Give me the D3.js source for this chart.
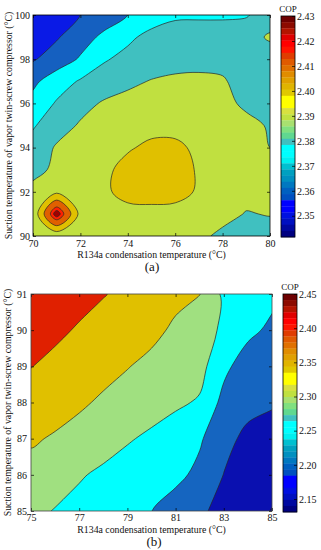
<!DOCTYPE html>
<html lang="en">
<head>
<meta charset="UTF-8">
<script src="https://cdn.jsdelivr.net/npm/d3@7"></script>
<style>
  body { margin: 0; background: #fff; }
  svg text { font-family: "Liberation Serif", "DejaVu Serif", serif; fill: #111; }
</style>
</head>
<body>
<svg id="chart" width="321" height="550"></svg>
<script>
// ---- panel (a) data: COP, rows top (100) to bottom (90)
const condTempA = [70, 71, 72, 73, 74, 75, 76, 77, 78, 79, 80];
const suctTempA = [100, 99, 98, 97, 96, 95, 94, 93, 92, 91, 90];
const copA = [
  [2.350, 2.355, 2.360, 2.365, 2.370, 2.375, 2.378, 2.378, 2.378, 2.379, 2.386],
  [2.352, 2.359, 2.366, 2.372, 2.378, 2.383, 2.386, 2.387, 2.387, 2.387, 2.391],
  [2.359, 2.365, 2.371, 2.379, 2.383, 2.385, 2.386, 2.387, 2.387, 2.386, 2.386],
  [2.368, 2.375, 2.381, 2.385, 2.388, 2.3905, 2.392, 2.392, 2.391, 2.386, 2.386],
  [2.373, 2.381, 2.387, 2.391, 2.393, 2.394, 2.395, 2.395, 2.393, 2.388, 2.388],
  [2.379, 2.386, 2.391, 2.394, 2.396, 2.397, 2.397, 2.396, 2.395, 2.393, 2.389],
  [2.384, 2.391, 2.395, 2.398, 2.399, 2.402, 2.402, 2.398, 2.395, 2.393, 2.390],
  [2.387, 2.392, 2.395, 2.398, 2.403, 2.405, 2.404, 2.399, 2.396, 2.394, 2.392],
  [2.393, 2.398, 2.397, 2.399, 2.402, 2.404, 2.403, 2.399, 2.396, 2.393, 2.392],
  [2.3925, 2.430, 2.3967, 2.396, 2.398, 2.397, 2.397, 2.395, 2.393, 2.3895, 2.3905],
  [2.393, 2.3925, 2.396, 2.394, 2.396, 2.397, 2.396, 2.392, 2.388, 2.389, 2.386]
];
const levelsA = [2.36, 2.37, 2.38, 2.39, 2.40, 2.41, 2.42, 2.425];
const xTicksA = [70, 72, 74, 76, 78, 80];
const yTicksA = [90, 92, 94, 96, 98, 100];
const cbTicksA = [2.35, 2.36, 2.37, 2.38, 2.39, 2.40, 2.41, 2.42, 2.43];
const cbRangeA = [2.3415, 2.43];

// ---- panel (b) data, rows top (91) to bottom (85)
const condTempB = [75, 76, 77, 78, 79, 80, 81, 82, 83, 84, 85];
const suctTempB = [91, 90, 89, 88, 87, 86, 85];
const copB = [
  [2.440, 2.425, 2.413, 2.402, 2.390, 2.375, 2.362, 2.351, 2.290, 2.275, 2.262],
  [2.425, 2.408, 2.396, 2.385, 2.372, 2.362, 2.342, 2.318, 2.293, 2.262, 2.240],
  [2.401, 2.390, 2.378, 2.365, 2.352, 2.338, 2.327, 2.316, 2.262, 2.225, 2.215],
  [2.380, 2.370, 2.357, 2.343, 2.330, 2.318, 2.308, 2.295, 2.235, 2.215, 2.205],
  [2.356, 2.345, 2.333, 2.318, 2.304, 2.292, 2.275, 2.256, 2.215, 2.188, 2.180],
  [2.333, 2.318, 2.304, 2.292, 2.281, 2.270, 2.262, 2.238, 2.199, 2.178, 2.168],
  [2.310, 2.298, 2.287, 2.275, 2.262, 2.2505, 2.228, 2.208, 2.185, 2.165, 2.148]
];
const levelsB = [2.15, 2.20, 2.25, 2.30, 2.35, 2.40];
const xTicksB = [75, 77, 79, 81, 83, 85];
const yTicksB = [85, 86, 87, 88, 89, 90, 91];
const cbTicksB = [2.15, 2.20, 2.25, 2.30, 2.35, 2.40, 2.45];
const cbRangeB = [2.131, 2.45];

// colours: base band + one per level
const fillsA = ["#0a1ae6", "#1560c0", "#00ffff", "#40c0c0", "#c0e040", "#e0c000", "#e06000", "#ff2000", "#a00000"];
const fillsB = ["#000088", "#0a10b0", "#1565c0", "#00ffff", "#a0e080", "#e0c000", "#e02000"];
// colorbar bands, top to bottom
const barColors = ["#6e0000", "#8c0a00", "#b41400", "#e00000", "#ff0000", "#ff1400", "#e03c00", "#e05a00",
  "#e07000", "#e08c00", "#e0a000", "#e0b400", "#e0c800", "#ffff00", "#ffff00", "#d8e040", "#c0e040",
  "#a8e070", "#80e080", "#60d890", "#40c0c0", "#00ffff", "#00ffff", "#00f0f0", "#00c0d0", "#00a0c0",
  "#0090c0", "#0078c0", "#0060c0", "#0050c0", "#0000ff", "#0000ff", "#0010e0", "#0010c0", "#0008a0", "#000080"];

const svg = d3.select("#chart");
const FONT = "Liberation Serif, DejaVu Serif, serif";

function panel(o) {
  const g = svg.append("g");
  const x = d3.scaleLinear().domain(o.xDomain).range([o.left, o.right]);
  const y = d3.scaleLinear().domain(o.yDomain).range([o.bottom, o.top]);
  const n = o.xs.length, m = o.ys.length;
  // grid space -> pixels (d3.contours puts sample i at i + 0.5)
  const gx = d3.scaleLinear().domain([0.5, n - 0.5]).range([x(o.xs[0]), x(o.xs[n - 1])]);
  const gy = d3.scaleLinear().domain([0.5, m - 0.5]).range([y(o.ys[0]), y(o.ys[m - 1])]);
  const contours = d3.contours().size([n, m]).thresholds(o.levels)(o.z.flat());

  g.append("clipPath").attr("id", "clip" + o.id)
    .append("rect").attr("x", o.left).attr("y", o.top)
    .attr("width", o.right - o.left).attr("height", o.bottom - o.top);
  const area = g.append("g").attr("clip-path", "url(#clip" + o.id + ")");
  area.append("rect").attr("x", o.left).attr("y", o.top)
    .attr("width", o.right - o.left).attr("height", o.bottom - o.top)
    .attr("fill", o.fills[0]);

  const line = d3.line().curve(d3.curveCatmullRomClosed.alpha(0.5));
  contours.forEach((c, i) => {
    let d = "";
    c.coordinates.forEach(poly => poly.forEach(ring => {
      const pts = ring.slice(0, -1).map(p => [gx(p[0]), gy(p[1])]);
      if (pts.length > 2) d += line(pts);
    }));
    if (!d) return;
    area.append("path").attr("d", d)
      .attr("fill", o.fills[i + 1]).attr("fill-rule", "evenodd")
      .attr("stroke", "#262626").attr("stroke-width", 0.7);
  });

  // axes, ticks pointing inward like matlab
  const style = s => s.attr("font-family", FONT).attr("font-size", 10)
    .call(s => s.select(".domain").remove())
    .call(s => s.selectAll(".tick line").attr("stroke", "#000").attr("stroke-width", 0.7));
  g.append("g").attr("transform", "translate(0," + o.bottom + ")")
    .call(d3.axisBottom(x).tickValues(o.xTicks).tickFormat(d3.format("d")).tickSize(-3).tickPadding(o.xPad)).call(style);
  g.append("g").attr("transform", "translate(0," + o.top + ")")
    .call(d3.axisTop(x).tickValues(o.xTicks).tickFormat("").tickSize(-3)).call(style);
  g.append("g").attr("transform", "translate(" + o.left + ",0)")
    .call(d3.axisLeft(y).tickValues(o.yTicks).tickFormat(d3.format("d")).tickSize(-3).tickPadding(o.yPad)).call(style);
  g.append("g").attr("transform", "translate(" + o.right + ",0)")
    .call(d3.axisRight(y).tickValues(o.yTicks).tickFormat("").tickSize(-3)).call(style);
  g.append("rect").attr("x", o.left).attr("y", o.top)
    .attr("width", o.right - o.left).attr("height", o.bottom - o.top)
    .attr("fill", "none").attr("stroke", o.frame).attr("stroke-width", 0.8);

  // colorbar
  const cb = d3.scaleLinear().domain(o.cbRange).range([o.cbBottom, o.cbTop]);
  const step = (o.cbRange[1] - o.cbRange[0]) / barColors.length;
  g.selectAll(".band").data(barColors).join("rect")
    .attr("x", o.cbLeft).attr("width", o.cbWidth)
    .attr("y", (c, i) => cb(o.cbRange[1] - i * step))
    .attr("height", (c, i) => cb(o.cbRange[1] - (i + 1) * step) - cb(o.cbRange[1] - i * step) + 0.3)
    .attr("fill", c => c);
  g.append("g").attr("transform", "translate(" + (o.cbLeft + o.cbWidth) + ",0)")
    .call(d3.axisRight(cb).tickValues(o.cbTicks).tickSize(-3).tickPadding(2)).call(style);
  g.append("rect").attr("x", o.cbLeft).attr("y", o.cbTop)
    .attr("width", o.cbWidth).attr("height", o.cbBottom - o.cbTop)
    .attr("fill", "none").attr("stroke", "#000").attr("stroke-width", 0.8);
  g.append("text").attr("x", o.cbLeft + o.cbWidth / 2).attr("y", o.cbTop - 4)
    .attr("text-anchor", "middle").attr("font-size", 9).text("COP");

  // titles
  g.append("text").attr("x", (o.left + o.right) / 2).attr("y", o.bottom + 22)
    .attr("text-anchor", "middle").attr("font-size", 9.8)
    .text("R134a condensation temperature (\u00b0C)");
  g.append("text")
    .attr("transform", "translate(" + o.yTitleX + "," + (o.top + o.bottom) / 2 + ") rotate(-90)")
    .attr("text-anchor", "middle").attr("font-size", 9.8)
    .text("Suction temperature of vapor twin-screw compressor (\u00b0C)");
  g.append("text").attr("x", o.tagX).attr("y", o.tagY)
    .attr("text-anchor", "middle").attr("font-size", 13).text(o.tag);
}

panel({
  id: "a", xs: condTempA, ys: suctTempA, z: copA, levels: levelsA, fills: fillsA,
  xDomain: [70, 80], yDomain: [90, 100], xTicks: xTicksA, yTicks: yTicksA,
  left: 33, right: 270, top: 15, bottom: 236, xPad: 4, yPad: 3, frame: "#000",
  cbLeft: 281, cbWidth: 14, cbTop: 16, cbBottom: 237, cbRange: cbRangeA, cbTicks: cbTicksA,
  yTitleX: 12, tag: "(a)", tagX: 152, tagY: 271
});
panel({
  id: "b", xs: condTempB, ys: suctTempB, z: copB, levels: levelsB, fills: fillsB,
  xDomain: [75, 85], yDomain: [85, 91], xTicks: xTicksB, yTicks: yTicksB,
  left: 31, right: 272, top: 294, bottom: 511, xPad: 3, yPad: 4, frame: "#444",
  cbLeft: 283, cbWidth: 14, cbTop: 294, cbBottom: 512, cbRange: cbRangeB, cbTicks: cbTicksB,
  yTitleX: 11, tag: "(b)", tagX: 154, tagY: 546
});
</script>
</body>
</html>
